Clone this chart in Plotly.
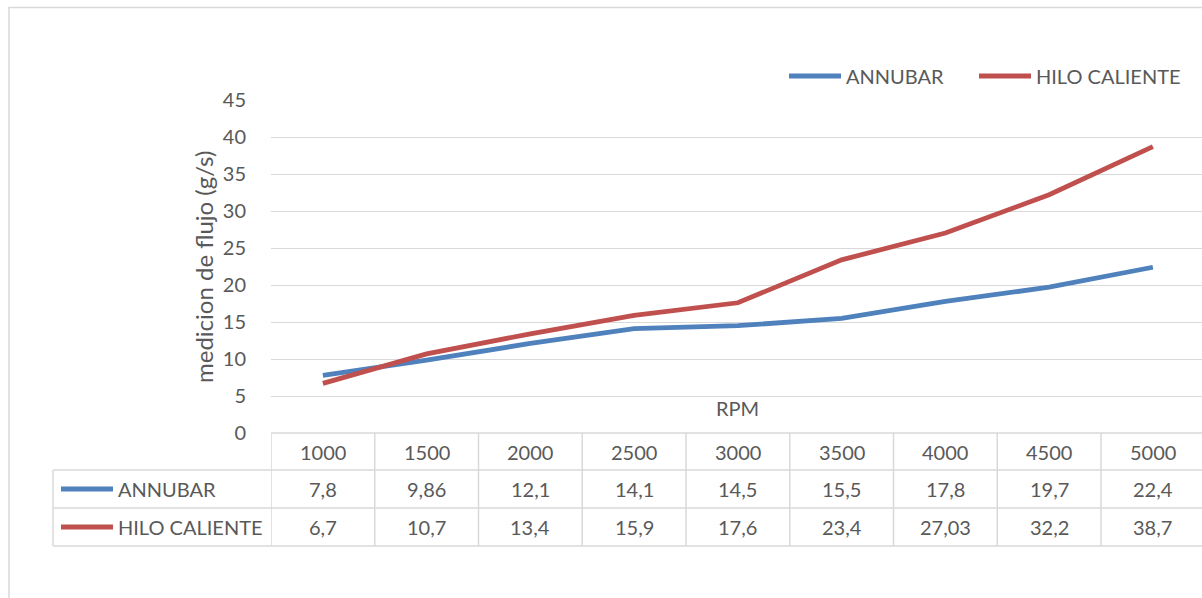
import plotly.graph_objects as go

rpm = ["1000", "1500", "2000", "2500", "3000", "3500", "4000", "4500", "5000"]
annubar = [7.8, 9.86, 12.1, 14.1, 14.5, 15.5, 17.8, 19.7, 22.4]
hilo = [6.7, 10.7, 13.4, 15.9, 17.6, 23.4, 27.03, 32.2, 38.7]
annubar_lbl = ["7,8", "9,86", "12,1", "14,1", "14,5", "15,5", "17,8", "19,7", "22,4"]
hilo_lbl = ["6,7", "10,7", "13,4", "15,9", "17,6", "23,4", "27,03", "32,2", "38,7"]
series_names = ["ANNUBAR", "HILO CALIENTE"]
colors = ["#4F81BD", "#C0504D"]
y_ticks = [0, 5, 10, 15, 20, 25, 30, 35, 40, 45]

W, H = 1202, 598
L, R, T, B = 271, 0, 100, 165
PW, PH = W - L - R, H - T - B
FONT = "Lato"
TXT = "#595959"
GRID = "#D9D9D9"


def px(xp):
    return (xp - L) / PW


def py(yp):
    return (H - B - yp) / PH


fig = go.Figure()
for name, vals, col in zip(series_names, [annubar, hilo], colors):
    fig.add_trace(go.Scatter(x=rpm, y=vals, mode="lines", name=name,
                             line=dict(color=col, width=4.8), showlegend=False))

shapes = []
annotations = []

# outer chart border
shapes.append(dict(type="rect", xref="paper", yref="paper",
                   x0=px(9), x1=px(1300), y0=py(700), y1=py(7.5),
                   line=dict(color=GRID, width=1.5), layer="below"))

# data table
row_y = [433, 470, 508, 546]
n = len(rpm)
for yy in row_y[1:]:
    shapes.append(dict(type="line", xref="paper", yref="paper",
                       x0=px(53), x1=1.05, y0=py(yy), y1=py(yy),
                       line=dict(color=GRID, width=1.5)))
shapes.append(dict(type="line", xref="paper", yref="paper",
                   x0=0, x1=1.05, y0=py(row_y[0]), y1=py(row_y[0]),
                   line=dict(color=GRID, width=1.5)))
for i in range(n):
    shapes.append(dict(type="line", xref="x", yref="paper",
                       x0=i - 0.5, x1=i - 0.5, y0=py(row_y[0]), y1=py(row_y[3]),
                       line=dict(color=GRID, width=1.5)))
shapes.append(dict(type="line", xref="paper", yref="paper",
                   x0=px(53), x1=px(53), y0=py(row_y[1]), y1=py(row_y[3]),
                   line=dict(color=GRID, width=1.5)))

tfont = dict(family=FONT, size=20, color=TXT)


def ann(x, y, text, xref="paper", xanchor="center", **kw):
    annotations.append(dict(x=x, y=y, xref=xref, yref="paper", text=text,
                            showarrow=False, xanchor=xanchor, yanchor="middle",
                            font=kw.pop("font", tfont), **kw))


for i, r in enumerate(rpm):
    ann(i, py(451.5), r, xref="x")
    ann(i, py(489), annubar_lbl[i], xref="x")
    ann(i, py(527), hilo_lbl[i], xref="x")

# table legend keys
for name, col, yy in zip(series_names, colors, [489, 527]):
    shapes.append(dict(type="line", xref="paper", yref="paper",
                       x0=px(61), x1=px(113), y0=py(yy), y1=py(yy),
                       line=dict(color=col, width=4.8)))
    ann(px(116), py(yy), name, xanchor="left")

# top legend
for name, col, x0, x1, xt in zip(series_names, colors, [789, 979], [841, 1031], [844, 1034]):
    shapes.append(dict(type="line", xref="paper", yref="paper",
                       x0=px(x0), x1=px(x1), y0=py(76), y1=py(76),
                       line=dict(color=col, width=4.8)))
    ann(px(xt), py(76), name, xanchor="left")

# axis titles
ann(4, py(408), "RPM", xref="x")
ann(px(203), py(267), "medicion de flujo (g/s)", textangle=-90,
    font=dict(family=FONT, size=24, color=TXT))

fig.update_layout(
    width=W, height=H,
    margin=dict(l=L, r=R, t=T, b=B),
    paper_bgcolor="white", plot_bgcolor="white",
    font=dict(family=FONT, size=20, color=TXT),
    shapes=shapes, annotations=annotations,
    xaxis=dict(type="category", range=[-0.5, -0.5 + PW / 103.75],
               showticklabels=False, showgrid=False, zeroline=False,
               showline=False, ticks=""),
    yaxis=dict(range=[0, 45], tickvals=y_ticks, showgrid=True, gridcolor=GRID,
               gridwidth=1.2, zeroline=False, showline=False, ticks="outside",
               ticklen=20, tickcolor="rgba(0,0,0,0)",
               tickfont=dict(family=FONT, size=20, color=TXT)),
    showlegend=False,
)

fig.write_html("out.html",
               config={"displayModeBar": False},
               post_script="document.body.style.margin='0';"
                           "document.body.style.overflow='hidden';"
                           "document.documentElement.style.overflow='hidden';")
